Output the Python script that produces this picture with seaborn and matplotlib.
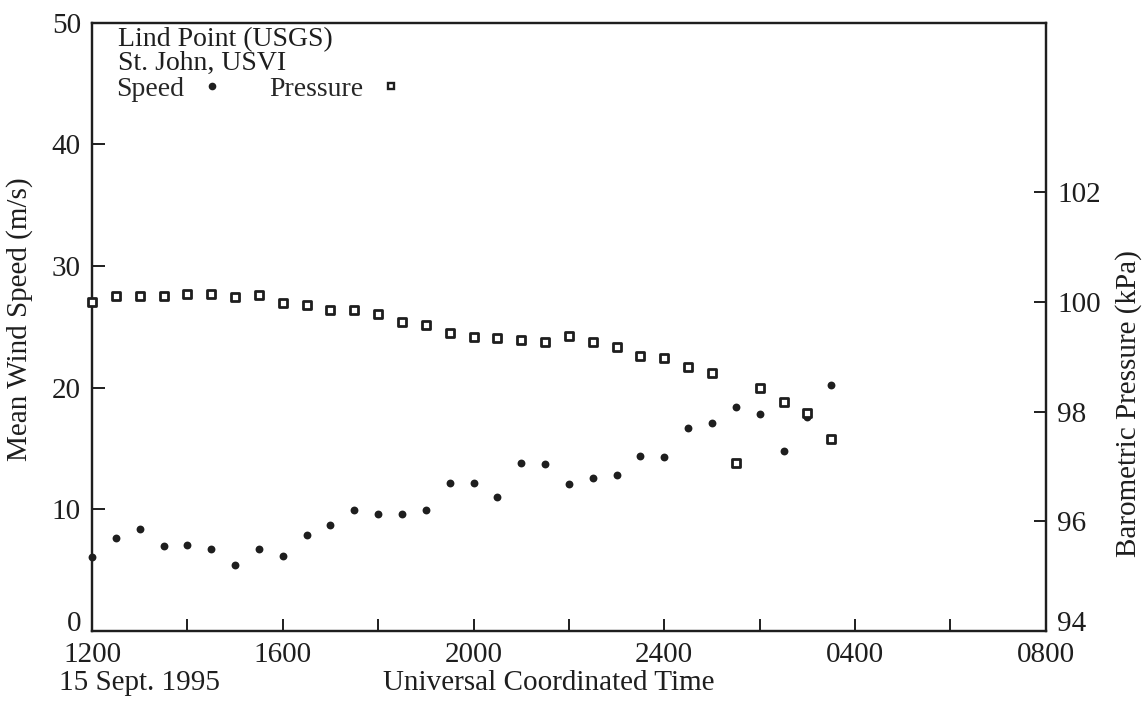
import pandas as pd
import matplotlib
matplotlib.use("Agg")
import matplotlib.pyplot as plt
from matplotlib.lines import Line2D
from matplotlib.transforms import ScaledTranslation
import seaborn as sns

sns.set_style("ticks")
plt.rcParams['font.family'] = ['Liberation Serif', 'DejaVu Serif']

# UTC time of each half-hourly reading, 15-16 Sept. 1995
times = ["1200", "1230", "1300", "1330", "1400", "1430", "1500", "1530",
         "1600", "1630", "1700", "1730", "1800", "1830", "1900", "1930",
         "2000", "2030", "2100", "2130", "2200", "2230", "2300", "2330",
         "2400", "0030", "0100", "0130", "0200", "0230", "0300", "0330"]

# mean wind speed (m/s)
speed = [6.1, 7.6, 8.4, 7.0, 7.1, 6.7, 5.4, 6.7,
         6.2, 7.9, 8.7, 9.9, 9.6, 9.6, 9.9, 12.2,
         12.2, 11.0, 13.8, 13.7, 12.1, 12.6, 12.8, 14.4,
         14.3, 16.7, 17.1, 18.4, 17.8, 14.8, 17.6, 20.2]

# barometric pressure (kPa)
pressure = [100.01, 100.11, 100.11, 100.11, 100.15, 100.15, 100.09, 100.13,
            99.99, 99.95, 99.86, 99.86, 99.78, 99.64, 99.58, 99.44,
            99.37, 99.34, 99.31, 99.27, 99.38, 99.28, 99.18, 99.01,
            98.98, 98.81, 98.71, 97.06, 98.44, 98.17, 97.97, 97.50]

xtick_labels = ["1200", "", "1600", "", "2000", "", "2400", "", "0400", "", "0800"]
xtick_hours = [12, 14, 16, 18, 20, 22, 24, 26, 28, 30, 32]


def to_hours(s):
    h = int(s[:2]) + int(s[2:]) / 60
    return h + 24 if h < 12 else h


df = pd.DataFrame({"hour": [to_hours(t) for t in times],
                   "speed": speed, "pressure": pressure})

ink = "#1e1e1e"
fs = 21

fig = plt.figure(figsize=(11.43, 7.01), dpi=100)
ax = fig.add_axes([0.0805, 0.0999, 0.8345, 0.8680])
ax2 = ax.twinx()

sns.scatterplot(data=df, x="hour", y="speed", ax=ax, marker="o", s=32,
                color=ink, edgecolor=ink, linewidth=0, clip_on=False, zorder=3)
sns.scatterplot(data=df, x="hour", y="pressure", ax=ax2, marker="s", s=36,
                facecolor="white", edgecolor=ink, linewidth=2.0, clip_on=False, zorder=3)

ax.set_xlim(12, 32)
ax.set_ylim(0, 50)
ax2.set_ylim(94, 94 + 50 * 1.2167 / 5.48)

ax.set_xticks(xtick_hours)
ax.set_xticklabels(xtick_labels)
ax.set_yticks([0, 10, 20, 30, 40, 50])
ax2.set_yticks([94, 96, 98, 100, 102])

for a in (ax, ax2):
    for sp in a.spines.values():
        sp.set_linewidth(1.6)
        sp.set_color(ink)
    a.set_xlabel("")
    a.set_ylabel("")

ax.tick_params(axis="x", direction="in", length=9, width=1.4, colors=ink,
               labelsize=fs, pad=8, top=False)
ax.tick_params(axis="y", direction="in", length=9, width=1.4, colors=ink,
               labelsize=fs, pad=8, right=False)
ax2.tick_params(axis="y", direction="in", length=9, width=1.4, colors=ink,
                labelsize=fs, pad=8)

# the bottom labels of both y axes sit a little above the x axis
lift = ScaledTranslation(0, 7 / 72, fig.dpi_scale_trans)
for lab in (ax.get_yticklabels()[0], ax2.get_yticklabels()[0]):
    lab.set_transform(lab.get_transform() + lift)

fig.text(0.017, 0.545, "Mean Wind Speed (m/s)", rotation=90, ha="center",
         va="center", fontsize=fs, color=ink)
fig.text(0.987, 0.425, "Barometric Pressure (kPa)", rotation=90, ha="center",
         va="center", fontsize=fs, color=ink)
fig.text(0.052, 0.025, "15 Sept. 1995", ha="left", va="center",
         fontsize=fs, color=ink)
fig.text(0.480, 0.025, "Universal Coordinated Time", ha="center",
         va="center", fontsize=fs, color=ink)

fig.text(0.103, 0.944, "Lind Point (USGS)", ha="left", va="center",
         fontsize=20, color=ink)
fig.text(0.103, 0.909, "St. John, USVI", ha="left", va="center",
         fontsize=20, color=ink)

handles = [Line2D([], [], marker="o", linestyle="", markersize=5.5,
                  color=ink, markeredgewidth=0),
           Line2D([], [], marker="s", linestyle="", markersize=4.6,
                  markerfacecolor="white", markeredgecolor=ink,
                  markeredgewidth=1.7)]
ax.legend(handles, ["Speed", "Pressure"], ncol=2, markerfirst=False,
          frameon=False, fontsize=20, handlelength=0.9, handletextpad=0.55,
          columnspacing=1.6, loc="center left",
          bbox_to_anchor=(0.102, 0.873), bbox_transform=fig.transFigure,
          borderpad=0, borderaxespad=0)

fig.savefig("out.png", dpi=100)
